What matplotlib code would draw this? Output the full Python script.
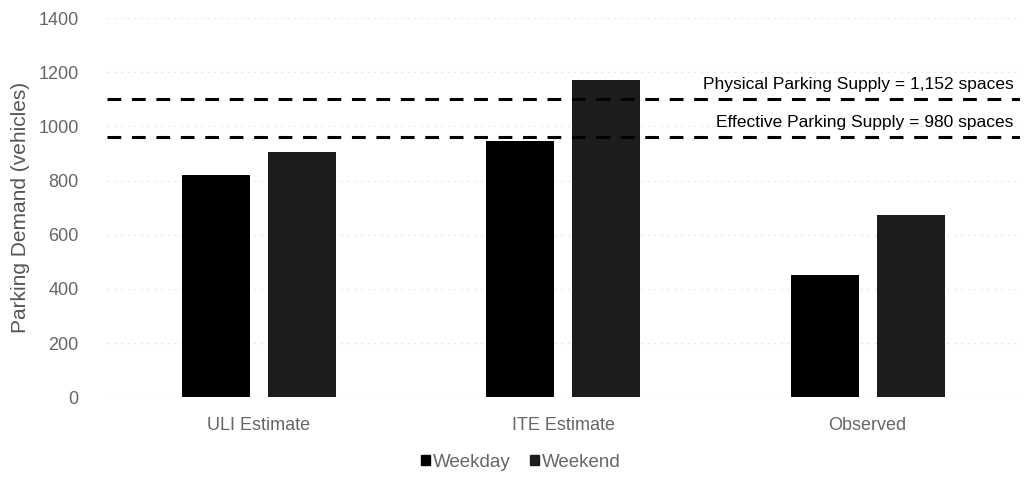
import numpy as np
import matplotlib
matplotlib.use('Agg')
import matplotlib.pyplot as plt
from matplotlib.patches import Patch

plt.rcParams['font.family'] = ['Liberation Sans', 'DejaVu Sans']

# Data
categories = ['ULI Estimate', 'ITE Estimate', 'Observed']
weekday = [820, 945, 450]
weekend = [905, 1170, 672]
physical_line = 1100
effective_line = 960
physical_label = 'Physical Parking Supply = 1,152 spaces'
effective_label = 'Effective Parking Supply = 980 spaces'
yticks = [0, 200, 400, 600, 800, 1000, 1200, 1400]

fig = plt.figure(figsize=(10.25, 4.78), dpi=100)
ax = fig.add_axes([0.104, 0.169, 0.891, 0.793])

x = np.arange(len(categories))
w = 0.223
off = 0.141
ax.bar(x - off, weekday, w, color='#000000', label='Weekday', zorder=3)
ax.bar(x + off, weekend, w, color='#1c1c1c', label='Weekend', zorder=3)

ax.axhline(physical_line, color='black', lw=2.2, ls=(0, (4.5, 3.5)), zorder=4)
ax.axhline(effective_line, color='black', lw=2.2, ls=(0, (4.5, 3.5)), zorder=4)
ax.text(2.48, physical_line + 28, physical_label, ha='right', va='bottom',
        fontsize=12.5, color='black')
ax.text(2.48, effective_line + 28, effective_label, ha='right', va='bottom',
        fontsize=12.5, color='black')

ax.set_xlim(-0.5, 2.5)
ax.set_ylim(0, 1400)
ax.set_yticks(yticks)
ax.set_xticks(x)
ax.set_xticklabels(categories)
ax.tick_params(axis='both', length=0, labelsize=13, labelcolor='#666666')
ax.tick_params(axis='y', pad=20)
ax.tick_params(axis='x', pad=14)
ax.yaxis.grid(True, color='#e6e6e6', lw=0.8, ls=(0, (2, 4)), zorder=0)
for s in ax.spines.values():
    s.set_visible(False)
ax.set_ylabel('Parking Demand (vehicles)', fontsize=15, color='#555555', labelpad=6)

handles = [Patch(color='#000000', label='Weekday'), Patch(color='#1c1c1c', label='Weekend')]
fig.legend(handles=handles, loc='lower center', bbox_to_anchor=(0.508, -0.02), ncol=2,
           frameon=False, fontsize=13.5, labelcolor='#666666', handlelength=0.5,
           handleheight=0.5, handletextpad=0.15, columnspacing=1.0)

fig.savefig('out.png', dpi=100)
